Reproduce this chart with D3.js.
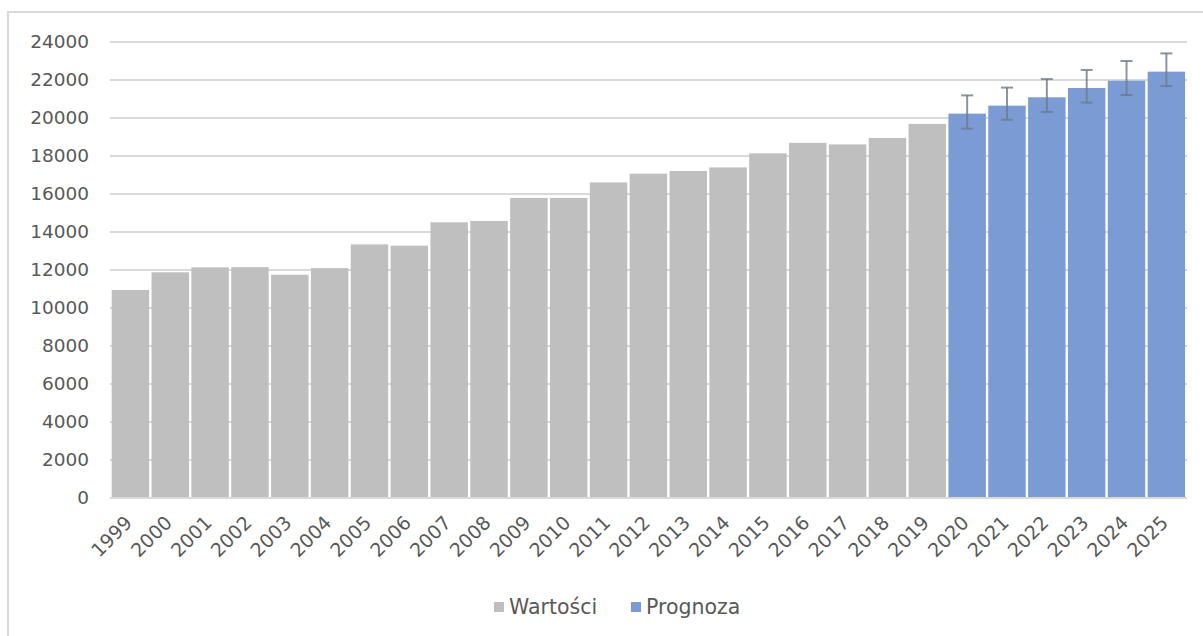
<!DOCTYPE html>
<html><head><meta charset="utf-8">
<script src="https://cdn.jsdelivr.net/npm/d3@7"></script>
<style>
html,body{margin:0;padding:0;background:#fff;}
svg{display:block;}
text{font-family:"DejaVu Sans",sans-serif;fill:#595959;}
</style></head>
<body>
<svg id="chart" width="1203" height="636"></svg>
<script>
const years = ["1999","2000","2001","2002","2003","2004","2005","2006","2007","2008","2009","2010","2011","2012","2013","2014","2015","2016","2017","2018","2019","2020","2021","2022","2023","2024","2025"];
const values = [10950,11880,12140,12150,11750,12100,13350,13280,14510,14580,15790,15790,16610,17070,17210,17400,18140,18690,18610,18950,19690,null,null,null,null,null,null];
const forecast = [null,null,null,null,null,null,null,null,null,null,null,null,null,null,null,null,null,null,null,null,null,20230,20650,21090,21580,21960,22440];
const errLow  = [null,null,null,null,null,null,null,null,null,null,null,null,null,null,null,null,null,null,null,null,null,19440,19910,20320,20810,21210,21680];
const errHigh = [null,null,null,null,null,null,null,null,null,null,null,null,null,null,null,null,null,null,null,null,null,21190,21600,22050,22530,23000,23400];
const yTicks = [0,2000,4000,6000,8000,10000,12000,14000,16000,18000,20000,22000,24000];
const seriesNames = ["Wartości","Prognoza"];
const colors = ["#bfbfbf","#7b9bd5"];

const svg = d3.select("#chart");
// outer frame
svg.append("rect").attr("x",8).attr("y",12).attr("width",1210).attr("height",640)
  .attr("fill","none").attr("stroke","#d9d9d9").attr("stroke-width",2);

const x = d3.scaleBand().domain(years).range([110.5,1186.3]).paddingInner(0.06).paddingOuter(0.03);
const y = d3.scaleLinear().domain([0,24000]).range([498,42]);

// gridlines
svg.append("g").selectAll("line").data(yTicks.filter(t=>t>0)).join("line")
  .attr("x1",110).attr("x2",1187).attr("y1",d=>y(d)).attr("y2",d=>y(d))
  .attr("stroke","#d9d9d9").attr("stroke-width",2);

// y axis labels
const yAxis = d3.axisLeft(y).tickValues(yTicks).tickSize(0).tickPadding(0).tickFormat(d3.format("d"));
const ga = svg.append("g").attr("transform","translate(89,0)").call(yAxis);
ga.select(".domain").remove();
ga.selectAll("text").attr("font-size","18.5px").attr("fill","#595959").attr("font-family","DejaVu Sans");

// bars
const data = years.map((yr,i)=>({yr, v: values[i], f: forecast[i], lo: errLow[i], hi: errHigh[i]}));
svg.append("g").selectAll("rect").data(data.filter(d=>d.v!=null)).join("rect")
  .attr("x",d=>x(d.yr)).attr("width",x.bandwidth())
  .attr("y",d=>y(d.v)).attr("height",d=>y(0)-y(d.v)).attr("fill",colors[0]);
svg.append("g").selectAll("rect").data(data.filter(d=>d.f!=null)).join("rect")
  .attr("x",d=>x(d.yr)).attr("width",x.bandwidth())
  .attr("y",d=>y(d.f)).attr("height",d=>y(0)-y(d.f)).attr("fill",colors[1]);

// baseline
svg.append("line").attr("x1",110).attr("x2",1187).attr("y1",y(0)).attr("y2",y(0))
  .attr("stroke","#d9d9d9").attr("stroke-width",2);

// error bars
const eb = svg.append("g").attr("stroke","#707a8a").attr("stroke-opacity",0.8).attr("stroke-width",2);
data.filter(d=>d.lo!=null).forEach(d=>{
  const cx = x(d.yr)+x.bandwidth()/2;
  eb.append("line").attr("x1",cx).attr("x2",cx).attr("y1",y(d.hi)).attr("y2",y(d.lo));
  eb.append("line").attr("x1",cx-6).attr("x2",cx+6).attr("y1",y(d.hi)).attr("y2",y(d.hi));
  eb.append("line").attr("x1",cx-6).attr("x2",cx+6).attr("y1",y(d.lo)).attr("y2",y(d.lo));
});

// x axis labels
const xAxis = d3.axisBottom(x).tickSize(0).tickPadding(0);
const gx = svg.append("g").attr("transform","translate(0,"+y(0)+")").call(xAxis);
gx.select(".domain").remove();
gx.selectAll("text").attr("font-size","19px").attr("fill","#595959").attr("font-family","DejaVu Sans")
  .attr("text-anchor","end").attr("dy","0").attr("y",0).attr("dx","0")
  .attr("transform","translate(3,26) rotate(-45)");

// legend
const leg = svg.append("g");
const legItems = [{name:seriesNames[0],c:colors[0],x:494},{name:seriesNames[1],c:colors[1],x:631}];
legItems.forEach(it=>{
  leg.append("rect").attr("x",it.x).attr("y",602).attr("width",10).attr("height",10).attr("fill",it.c);
  leg.append("text").attr("x",it.x+15).attr("y",607).attr("dy","0.35em")
    .attr("font-size","20.5px").text(it.name);
});
</script>
</body></html>
